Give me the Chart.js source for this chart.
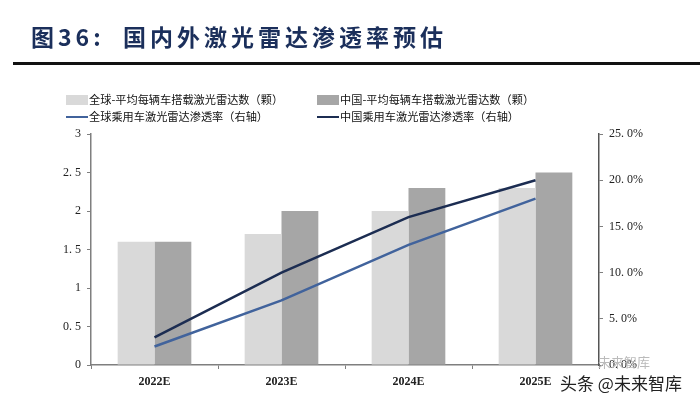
<!DOCTYPE html>
<html>
<head>
<meta charset="utf-8">
<script src="https://cdn.jsdelivr.net/npm/chart.js@4"></script>
<style>
  html, body { margin: 0; padding: 0; background: #fff; }
  #wrap { position: relative; width: 700px; height: 401px; overflow: hidden; background: #fff; }
  #title { position: absolute; left: 31px; top: 19px; font-family: "Noto Sans CJK SC", sans-serif; font-weight: 700; font-size: 23px; color: #1b2f5b; letter-spacing: 4px; white-space: nowrap; }
  #rule { position: absolute; left: 13px; top: 62px; width: 687px; height: 3px; background: #111; }
  .lg { position: absolute; font-family: "Noto Sans CJK SC", sans-serif; font-size: 11.2px; color: #111; white-space: nowrap; line-height: 14px; }
  .sw { position: absolute; }
  #wm { position: absolute; left: 560px; top: 370px; font-family: "Noto Sans CJK SC", sans-serif; font-size: 17px; color: #222; white-space: nowrap; text-shadow: 0 0 2px #fff, 0 0 2px #fff; }
  #wm2 { position: absolute; left: 598px; top: 352px; font-family: "Noto Sans CJK SC", sans-serif; font-size: 13px; color: #bbb; white-space: nowrap; }
  canvas { position: absolute; left: 0; top: 0; }
</style>
</head>
<body>
<div id="wrap">
  <canvas id="c" width="700" height="401"></canvas>
  <div id="title">图36:&nbsp;&nbsp;国内外激光雷达渗透率预估</div>
  <div id="rule"></div>
  <div id="legend"></div>
  <div id="wm2">未来智库</div>
  <div id="wm">头条 @未来智库</div>
</div>
<script>
const categories = ['2022E', '2023E', '2024E', '2025E'];
const globalLidarPerCar = [1.6, 1.7, 2.0, 2.3];
const chinaLidarPerCar = [1.6, 2.0, 2.3, 2.5];
const globalPenetration = [2, 7, 13, 18];
const chinaPenetration = [3, 10, 16, 20];
const leftTickLabels = ['0', '0. 5', '1', '1. 5', '2', '2. 5', '3'];
const rightTickLabels = ['0. 0%', '5. 0%', '10. 0%', '15. 0%', '20. 0%', '25. 0%'];
const seriesNames = ['全球-平均每辆车搭载激光雷达数（颗）', '中国-平均每辆车搭载激光雷达数（颗）', '全球乘用车激光雷达渗透率（右轴）', '中国乘用车激光雷达渗透率（右轴）'];

const colors = { gBar: '#d9d9d9', cBar: '#a6a6a6', gLine: '#41639c', cLine: '#1c2d52' };

// HTML legend
const legend = document.getElementById('legend');
const legendItems = [
  { name: seriesNames[0], type: 'bar', color: colors.gBar, x: 66, y: 100 },
  { name: seriesNames[1], type: 'bar', color: colors.cBar, x: 317, y: 100 },
  { name: seriesNames[2], type: 'line', color: colors.gLine, x: 66, y: 117 },
  { name: seriesNames[3], type: 'line', color: colors.cLine, x: 317, y: 117 }
];
legendItems.forEach(it => {
  const sw = document.createElement('div');
  sw.className = 'sw';
  sw.style.left = it.x + 'px';
  sw.style.width = '22px';
  sw.style.background = it.color;
  if (it.type === 'bar') { sw.style.top = (it.y - 5) + 'px'; sw.style.height = '10px'; }
  else { sw.style.top = (it.y - 1) + 'px'; sw.style.height = '2px'; }
  legend.appendChild(sw);
  const t = document.createElement('div');
  t.className = 'lg';
  t.style.left = (it.x + 23) + 'px';
  t.style.top = (it.y - 8) + 'px';
  t.textContent = it.name;
  legend.appendChild(t);
});

const tickFont = { family: '"Liberation Serif", serif', size: 12 };
const axisColor = '#7f7f7f';

new Chart(document.getElementById('c'), {
  data: {
    labels: categories,
    datasets: [
      { type: 'line', label: seriesNames[2], data: globalPenetration, yAxisID: 'y2', borderColor: colors.gLine, borderWidth: 2.5, pointRadius: 0, tension: 0, order: 0 },
      { type: 'line', label: seriesNames[3], data: chinaPenetration, yAxisID: 'y2', borderColor: colors.cLine, borderWidth: 2.5, pointRadius: 0, tension: 0, order: 0 },
      { type: 'bar', label: seriesNames[0], data: globalLidarPerCar, yAxisID: 'y', backgroundColor: colors.gBar, barPercentage: 1, categoryPercentage: 0.58, order: 1 },
      { type: 'bar', label: seriesNames[1], data: chinaLidarPerCar, yAxisID: 'y', backgroundColor: colors.cBar, barPercentage: 1, categoryPercentage: 0.58, order: 1 }
    ]
  },
  options: {
    responsive: false,
    animation: false,
    layout: { padding: { top: 134, left: 0, right: 0, bottom: 0 } },
    plugins: { legend: { display: false }, tooltip: { enabled: false }, title: { display: false } },
    scales: {
      x: {
        offset: true,
        grid: { display: true, offset: true, drawOnChartArea: false, drawTicks: true, tickLength: 4, color: axisColor },
        border: { display: true, color: axisColor, width: 1.5 },
        ticks: { font: { family: '"Liberation Serif", serif', size: 12, weight: 'bold' }, color: '#222', padding: 6, maxRotation: 0 },
        afterFit: s => { s.height = 36; }
      },
      y: {
        position: 'left',
        min: 0, max: 3,
        ticks: { stepSize: 0.5, font: tickFont, color: '#222', padding: 6, callback: (v, i) => leftTickLabels[i] },
        grid: { display: true, drawOnChartArea: false, drawTicks: true, tickLength: 4, color: axisColor },
        border: { display: true, color: axisColor, width: 1.5 },
        afterFit: s => { s.width = 91; }
      },
      y2: {
        position: 'right',
        min: 0, max: 25,
        ticks: { stepSize: 5, font: tickFont, color: '#222', padding: 6, callback: (v, i) => rightTickLabels[i] },
        grid: { display: true, drawOnChartArea: false, drawTicks: true, tickLength: 4, color: axisColor },
        border: { display: true, color: '#555', width: 1.5 },
        afterFit: s => { s.width = 101; }
      }
    }
  }
});
</script>
</body>
</html>
